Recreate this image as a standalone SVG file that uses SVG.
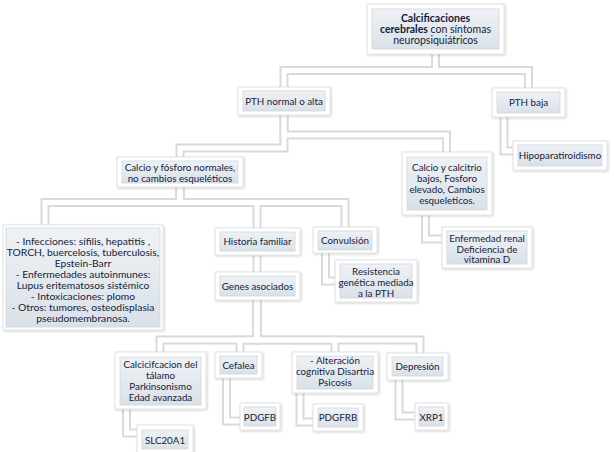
<svg xmlns="http://www.w3.org/2000/svg" width="614" height="452" viewBox="0 0 614 452">
<defs>
<linearGradient id="g" x1="0" y1="0" x2="0" y2="1">
<stop offset="0" stop-color="#eef2f5"/>
<stop offset="1" stop-color="#d9e1e8"/>
</linearGradient>
<filter id="sh" x="-10%" y="-10%" width="130%" height="130%">
<feDropShadow dx="1" dy="1" stdDeviation="1" flood-color="#000" flood-opacity="0.18"/>
</filter>
<style>
.outer{fill:#fff;stroke:#e2e2e2;stroke-width:1;filter:url(#sh)}
.inner{fill:url(#g);stroke:#cfd8df;stroke-width:0.8}
.t{font-family:Lato,"Liberation Sans",sans-serif;font-size:9.8px;fill:#17213c;text-anchor:middle}
.big{font-size:10.5px}
.mid{font-size:10.3px}
.b{font-weight:bold}
.edge{fill:none;stroke:#dadada;stroke-width:9}
.core{fill:none;stroke:#fff;stroke-width:5}
</style>
</defs>
<rect width="614" height="452" fill="#fff"/>
<g id="connectors">
<g class="edge">
<path d="M435.5 54V70.5H284V87"/>
<path d="M435.5 54V70.5H528.5V88"/>
<path d="M504 117V151H513"/>
<path d="M284 115V135H446.5V152"/>
<path d="M284 115V148H180V157"/>
<path d="M425.5 215V239H442"/>
<path d="M180 187V202.5H45V225"/>
<path d="M180 187V202.5H257V228"/>
<path d="M180 187V202.5H345V227"/>
<path d="M257 255V272"/>
<path d="M325.5 253V281H335"/>
<path d="M257 300V340H160V352"/>
<path d="M257 300V340H240V352"/>
<path d="M257 300V340H335V352"/>
<path d="M257 300V340H420V353"/>
<path d="M126.5 409V433H137"/>
<path d="M226.5 378V421H240"/>
<path d="M300 393V422H313"/>
<path d="M399 380V416H415"/>
</g>
<g class="core">
<path d="M435.5 54V70.5H284V87"/>
<path d="M435.5 54V70.5H528.5V88"/>
<path d="M504 117V151H513"/>
<path d="M284 115V135H446.5V152"/>
<path d="M284 115V148H180V157"/>
<path d="M425.5 215V239H442"/>
<path d="M180 187V202.5H45V225"/>
<path d="M180 187V202.5H257V228"/>
<path d="M180 187V202.5H345V227"/>
<path d="M257 255V272"/>
<path d="M325.5 253V281H335"/>
<path d="M257 300V340H160V352"/>
<path d="M257 300V340H240V352"/>
<path d="M257 300V340H335V352"/>
<path d="M257 300V340H420V353"/>
<path d="M126.5 409V433H137"/>
<path d="M226.5 378V421H240"/>
<path d="M300 393V422H313"/>
<path d="M399 380V416H415"/>
</g>
</g>
<g id="root">
<rect class="outer" x="367" y="4" width="137" height="50"/>
<rect class="inner" x="372" y="9" width="127" height="40"/>
<text class="t big" x="435.5" y="21.5"><tspan class="b">Calcificaciones</tspan></text>
<text class="t big" x="435.5" y="33"><tspan class="b">cerebrales</tspan> con síntomas</text>
<text class="t big" x="435.5" y="44">neuropsiquiátricos</text>
</g>
<g id="pth-normal">
<rect class="outer" x="238" y="87" width="92" height="28"/>
<rect class="inner" x="243" y="91" width="82" height="20"/>
<text class="t" x="284" y="104.5">PTH normal o alta</text>
</g>
<g id="pth-baja">
<rect class="outer" x="492" y="88" width="73" height="29"/>
<rect class="inner" x="497" y="92" width="63" height="21"/>
<text class="t" x="528.5" y="105.5">PTH baja</text>
</g>
<g id="hipoparatiroidismo">
<rect class="outer" x="513" y="141" width="94" height="29"/>
<rect class="inner" x="518" y="145" width="84" height="21"/>
<text class="t" x="560" y="159">Hipoparatiroidismo</text>
</g>
<g id="calcio-fosforo-normales">
<rect class="outer" x="117" y="157" width="126" height="30"/>
<rect class="inner" x="122" y="161" width="116" height="22"/>
<text class="t" x="180" y="170.5">Calcio y fósforo normales,</text>
<text class="t" x="180" y="181.5">no cambios esqueléticos</text>
</g>
<g id="calcio-calcitrio-bajos">
<rect class="outer" x="402" y="152" width="90" height="63"/>
<rect class="inner" x="407" y="157" width="80" height="53"/>
<text class="t" x="447" y="171">Calcio y calcitrio</text>
<text class="t" x="447" y="182">bajos, Fosforo</text>
<text class="t" x="447" y="193">elevado, Cambios</text>
<text class="t" x="447" y="204">esqueleticos.</text>
</g>
<g id="enfermedad-renal">
<rect class="outer" x="442" y="227" width="90" height="41"/>
<rect class="inner" x="447" y="231" width="80" height="33"/>
<text class="t" x="487" y="242">Enfermedad renal</text>
<text class="t" x="487" y="252.5">Deficiencia de</text>
<text class="t" x="487" y="263">vitamina D</text>
</g>
<g id="infecciones">
<rect class="outer" x="3" y="225" width="160" height="105"/>
<rect class="inner" x="6" y="228" width="154" height="99"/>
<text class="t mid" x="83" y="245">- Infecciones: sífilis, hepatitis ,</text>
<text class="t mid" x="83" y="256">TORCH, buercelosis, tuberculosis,</text>
<text class="t mid" x="83" y="267">Epstein-Barr</text>
<text class="t mid" x="83" y="278">- Enfermedades autoinmunes:</text>
<text class="t mid" x="83" y="289">Lupus eritematosos sistémico</text>
<text class="t mid" x="83" y="300">-  Intoxicaciones: plomo</text>
<text class="t mid" x="83" y="311">- Otros: tumores, osteodisplasia</text>
<text class="t mid" x="83" y="322">pseudomembranosa.</text>
</g>
<g id="historia-familiar">
<rect class="outer" x="215" y="228" width="85" height="27"/>
<rect class="inner" x="220" y="232" width="75" height="19"/>
<text class="t" x="257.5" y="245">Historia familiar</text>
</g>
<g id="genes-asociados">
<rect class="outer" x="215" y="272" width="85" height="28"/>
<rect class="inner" x="220" y="276" width="75" height="20"/>
<text class="t" x="257.5" y="290">Genes asociados</text>
</g>
<g id="convulsion">
<rect class="outer" x="313" y="227" width="64" height="26"/>
<rect class="inner" x="318" y="231" width="54" height="19"/>
<text class="t" x="345" y="244">Convulsión</text>
</g>
<g id="resistencia-pth">
<rect class="outer" x="335" y="260" width="82" height="42"/>
<rect class="inner" x="340" y="264" width="72" height="34"/>
<text class="t" x="376" y="275">Resistencia</text>
<text class="t" x="376" y="286">genética mediada</text>
<text class="t" x="376" y="297">a la PTH</text>
</g>
<g id="calcificacion-talamo">
<rect class="outer" x="115" y="352" width="91" height="57"/>
<rect class="inner" x="120" y="357" width="81" height="48"/>
<text class="t" x="160.5" y="368">Calcicifcacion del</text>
<text class="t" x="160.5" y="379">tálamo</text>
<text class="t" x="160.5" y="390">Parkinsonismo</text>
<text class="t" x="160.5" y="401">Edad avanzada</text>
</g>
<g id="slc20a1">
<rect class="outer" x="137" y="425" width="56" height="28"/>
<rect class="inner" x="142" y="430" width="46" height="19"/>
<text class="t" x="165" y="443.5">SLC20A1</text>
</g>
<g id="cefalea">
<rect class="outer" x="215" y="352" width="47" height="26"/>
<rect class="inner" x="220" y="356" width="37" height="18"/>
<text class="t" x="238.5" y="369">Cefalea</text>
</g>
<g id="pdgfb">
<rect class="outer" x="240" y="403" width="40" height="27"/>
<rect class="inner" x="244" y="407" width="32" height="19"/>
<text class="t" x="260" y="420.5">PDGFB</text>
</g>
<g id="alteracion-cognitiva">
<rect class="outer" x="292" y="352" width="86" height="41"/>
<rect class="inner" x="297" y="356" width="76" height="33"/>
<text class="t" x="335" y="364">- Alteración</text>
<text class="t" x="335" y="375">cognitiva Disartria</text>
<text class="t" x="335" y="386">Psicosis</text>
</g>
<g id="pdgfrb">
<rect class="outer" x="313" y="404" width="50" height="27"/>
<rect class="inner" x="318" y="408" width="40" height="19"/>
<text class="t" x="338" y="421">PDGFRB</text>
</g>
<g id="depresion">
<rect class="outer" x="387" y="353" width="61" height="27"/>
<rect class="inner" x="392" y="357" width="51" height="19"/>
<text class="t" x="417.5" y="370">Depresión</text>
</g>
<g id="xrp1">
<rect class="outer" x="415" y="403" width="33" height="27"/>
<rect class="inner" x="419" y="407" width="25" height="19"/>
<text class="t" x="431.5" y="420.5">XRP1</text>
</g>
</svg>
